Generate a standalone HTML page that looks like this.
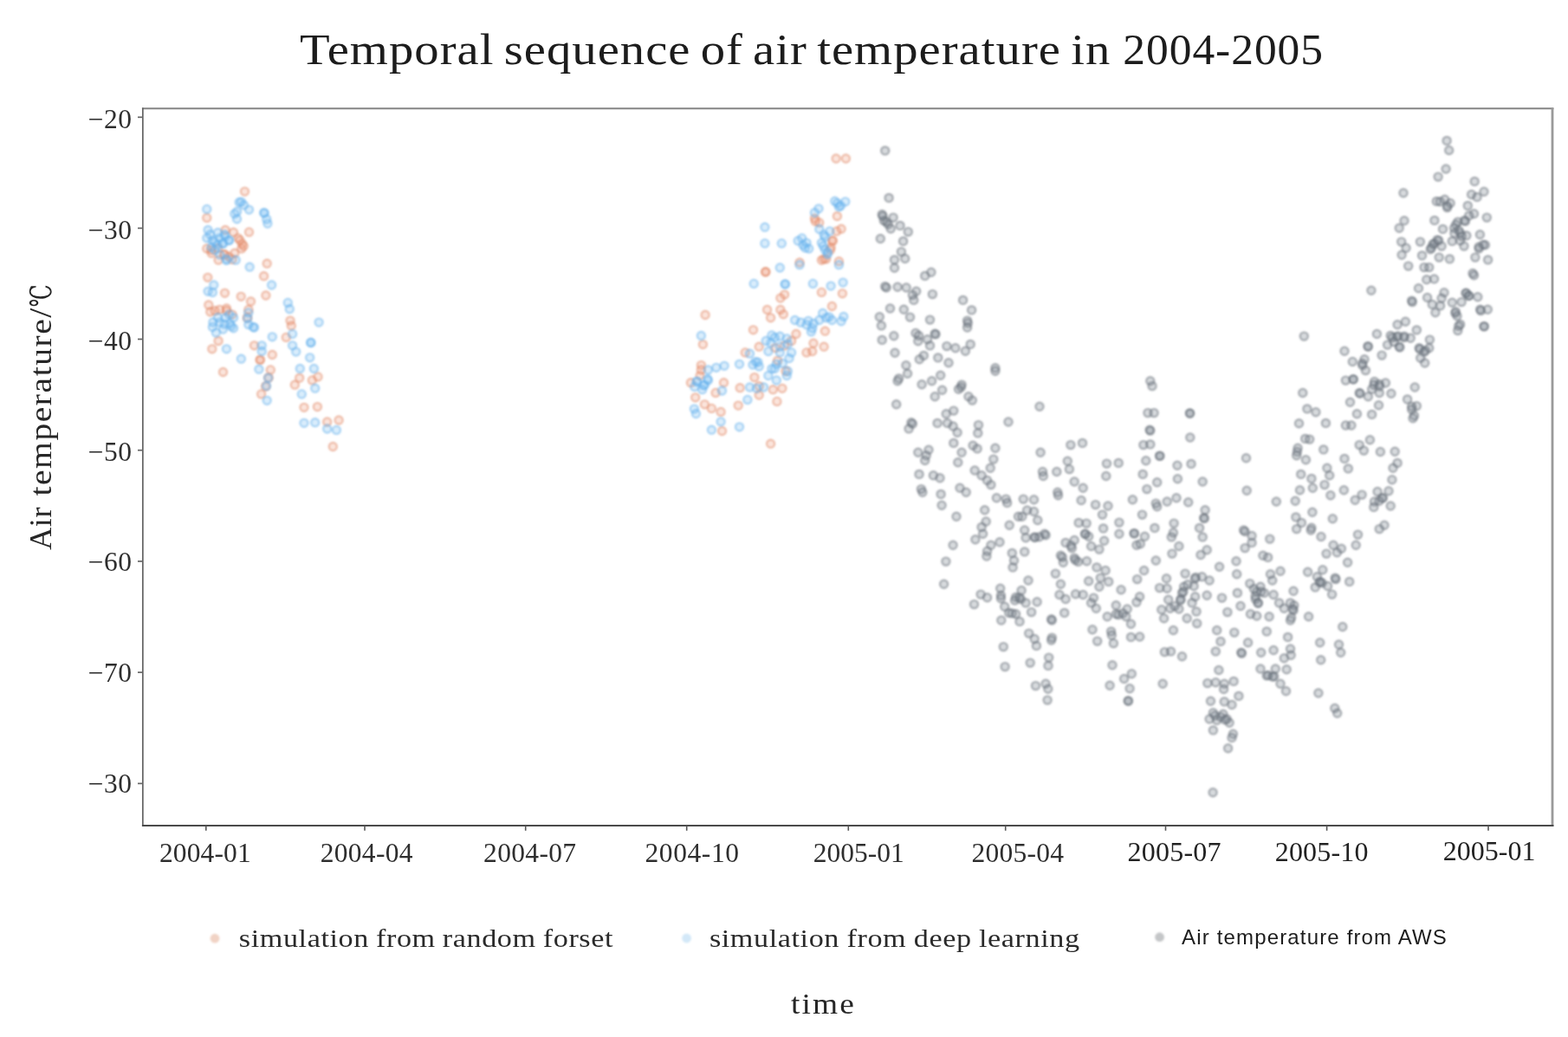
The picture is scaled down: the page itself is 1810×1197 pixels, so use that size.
<!DOCTYPE html>
<html lang="en"><head><meta charset="utf-8"><title>Temporal sequence of air temperature in 2004-2005</title>
<style>
html,body{margin:0;padding:0;background:#fff;}
body{width:1810px;height:1197px;overflow:hidden;position:relative;font-family:"Liberation Serif","Noto Serif CJK SC",serif;}
svg{position:absolute;left:0;top:0;display:block}
text{font-family:"Liberation Serif","Noto Serif CJK SC",serif;fill:#262626}
.title{font-size:51.5px;fill:#1c1c1c}
.yl{font-size:36px}
.deg{font-size:34px;font-family:"Liberation Serif","DejaVu Serif","Noto Serif CJK SC",serif}
.tk{font-size:31.5px;fill:#2e2e2e}
.tkt{font-size:32px;fill:#222}
.lg{font-size:29.6px;fill:#2a2a2a}
.lgs{font-family:"Liberation Sans",sans-serif;font-size:24px;fill:#1c1c1c}
.xl{font-size:34px}
.o circle{fill:#f09a7c;fill-opacity:.27;stroke:#de8663;stroke-opacity:.52;stroke-width:2.1}
.b circle{fill:#72bcf3;fill-opacity:.27;stroke:#64aeea;stroke-opacity:.52;stroke-width:2.1}
.g circle{fill:#7a8590;fill-opacity:.3;stroke:#666e76;stroke-opacity:.52;stroke-width:2.2}
</style></head><body>
<svg width="1810" height="1197" viewBox="0 0 1810 1197">
<rect x="0" y="0" width="1810" height="1197" fill="#fff"/>
<defs><filter id="soft" x="0" y="0" width="1810" height="1197" filterUnits="userSpaceOnUse"><feGaussianBlur stdDeviation="0.8"/></filter></defs>
<g><text class="title" transform="translate(346,73.9) scale(1.1,1)" style="letter-spacing:0.94px;word-spacing:-3.64px">Temporal sequence of air temperature in</text> <text class="title" x="1296.3" y="73.9" style="letter-spacing:0.95px;word-spacing:0px">2004-2005</text></g>
<g class="o" filter="url(#soft)"><circle cx="282.5" cy="221.1" r="4.6"/><circle cx="238.8" cy="251.4" r="4.6"/><circle cx="287.5" cy="267.9" r="4.6"/><circle cx="279.5" cy="281.5" r="4.6"/><circle cx="269.5" cy="268.2" r="4.6"/><circle cx="260.1" cy="265.5" r="4.6"/><circle cx="274.8" cy="274.8" r="4.6"/><circle cx="278.8" cy="286.9" r="4.6"/><circle cx="270.8" cy="292.2" r="4.6"/><circle cx="264.1" cy="296.2" r="4.6"/><circle cx="252.1" cy="300.2" r="4.6"/><circle cx="244.1" cy="292.2" r="4.6"/><circle cx="238.8" cy="286.9" r="4.6"/><circle cx="258.8" cy="293.5" r="4.6"/><circle cx="308.2" cy="304.2" r="4.6"/><circle cx="304.6" cy="318.7" r="4.6"/><circle cx="239.8" cy="320.3" r="4.6"/><circle cx="259.5" cy="338.3" r="4.6"/><circle cx="278.2" cy="342.3" r="4.6"/><circle cx="306.9" cy="341" r="4.6"/><circle cx="289.5" cy="348" r="4.6"/><circle cx="240.8" cy="352" r="4.6"/><circle cx="242.8" cy="360" r="4.6"/><circle cx="253.5" cy="357.4" r="4.6"/><circle cx="261.5" cy="356" r="4.6"/><circle cx="286.9" cy="357.4" r="4.6"/><circle cx="285.5" cy="366.7" r="4.6"/><circle cx="335" cy="370.1" r="4.6"/><circle cx="336.3" cy="376.1" r="4.6"/><circle cx="330.3" cy="389.4" r="4.6"/><circle cx="252.1" cy="393.5" r="4.6"/><circle cx="244.8" cy="402.8" r="4.6"/><circle cx="293.5" cy="398.8" r="4.6"/><circle cx="314.3" cy="409.5" r="4.6"/><circle cx="300.2" cy="415.5" r="4.6"/><circle cx="257.5" cy="429.5" r="4.6"/><circle cx="312.3" cy="426.9" r="4.6"/><circle cx="301.6" cy="454.9" r="4.6"/><circle cx="340.3" cy="444.2" r="4.6"/><circle cx="345.7" cy="436.2" r="4.6"/><circle cx="360.4" cy="438.9" r="4.6"/><circle cx="367" cy="434.9" r="4.6"/><circle cx="351" cy="470.3" r="4.6"/><circle cx="366.4" cy="469.6" r="4.6"/><circle cx="391.1" cy="485" r="4.6"/><circle cx="377.7" cy="487" r="4.6"/><circle cx="384.3" cy="515.5" r="4.6"/><circle cx="965.1" cy="183" r="4.6"/><circle cx="976.4" cy="183" r="4.6"/><circle cx="966.4" cy="249.5" r="4.6"/><circle cx="945.7" cy="256.9" r="4.6"/><circle cx="940.4" cy="252.2" r="4.6"/><circle cx="965.8" cy="266.9" r="4.6"/><circle cx="971.1" cy="264.2" r="4.6"/><circle cx="960.4" cy="277.6" r="4.6"/><circle cx="959.1" cy="285.6" r="4.6"/><circle cx="948.4" cy="300.3" r="4.6"/><circle cx="953.7" cy="299" r="4.6"/><circle cx="923" cy="303" r="4.6"/><circle cx="968.4" cy="301.7" r="4.6"/><circle cx="883.6" cy="314" r="4.6"/><circle cx="905.6" cy="340.1" r="4.6"/><circle cx="900.9" cy="344.1" r="4.6"/><circle cx="948.4" cy="337.4" r="4.6"/><circle cx="972.4" cy="338.8" r="4.6"/><circle cx="960.4" cy="353.5" r="4.6"/><circle cx="885.6" cy="357.5" r="4.6"/><circle cx="900.9" cy="357.5" r="4.6"/><circle cx="889.6" cy="366.8" r="4.6"/><circle cx="904.3" cy="362.8" r="4.6"/><circle cx="814.1" cy="363.5" r="4.6"/><circle cx="869.5" cy="380.8" r="4.6"/><circle cx="952.4" cy="382.2" r="4.6"/><circle cx="919" cy="385.5" r="4.6"/><circle cx="913.6" cy="393.5" r="4.6"/><circle cx="939" cy="396.2" r="4.6"/><circle cx="951.1" cy="400.2" r="4.6"/><circle cx="931" cy="406.9" r="4.6"/><circle cx="937.7" cy="405.6" r="4.6"/><circle cx="876.2" cy="400.2" r="4.6"/><circle cx="894.9" cy="401.6" r="4.6"/><circle cx="905.6" cy="398.9" r="4.6"/><circle cx="860.2" cy="406.9" r="4.6"/><circle cx="811.4" cy="397.6" r="4.6"/><circle cx="809.4" cy="421.6" r="4.6"/><circle cx="897.6" cy="416.3" r="4.6"/><circle cx="907" cy="428.3" r="4.6"/><circle cx="870.9" cy="435.6" r="4.6"/><circle cx="835.5" cy="441.7" r="4.6"/><circle cx="854.2" cy="447.7" r="4.6"/><circle cx="892.3" cy="449.7" r="4.6"/><circle cx="902.9" cy="448.3" r="4.6"/><circle cx="797.4" cy="441.7" r="4.6"/><circle cx="808.1" cy="433.6" r="4.6"/><circle cx="876.2" cy="445.7" r="4.6"/><circle cx="802.7" cy="458.8" r="4.6"/><circle cx="813.4" cy="466.8" r="4.6"/><circle cx="821.4" cy="471.4" r="4.6"/><circle cx="832.1" cy="475.5" r="4.6"/><circle cx="826.1" cy="453.4" r="4.6"/><circle cx="852.2" cy="468.1" r="4.6"/><circle cx="876.2" cy="456.1" r="4.6"/><circle cx="896.9" cy="463.4" r="4.6"/><circle cx="833.5" cy="497.5" r="4.6"/><circle cx="889.6" cy="512.2" r="4.6"/><circle cx="259.2" cy="293.9" r="4.6"/><circle cx="268" cy="299.4" r="4.6"/><circle cx="276.9" cy="277.3" r="4.6"/><circle cx="281.3" cy="284" r="4.6"/><circle cx="251.5" cy="286.2" r="4.6"/><circle cx="243.7" cy="288.4" r="4.6"/><circle cx="248.1" cy="358.7" r="4.6"/><circle cx="261.4" cy="358.7" r="4.6"/><circle cx="268" cy="363.1" r="4.6"/><circle cx="300.3" cy="415.3" r="4.6"/><circle cx="310" cy="436.1" r="4.6"/><circle cx="306.7" cy="446" r="4.6"/><circle cx="941.3" cy="255.5" r="4.6"/><circle cx="961.5" cy="277.9" r="4.6"/><circle cx="958.5" cy="288.4" r="4.6"/><circle cx="951" cy="298.8" r="4.6"/><circle cx="883.9" cy="313.7" r="4.6"/><circle cx="809.3" cy="427" r="4.6"/></g>
<g class="b" filter="url(#soft)"><circle cx="238.8" cy="241.4" r="4.6"/><circle cx="276.2" cy="233.4" r="4.6"/><circle cx="281.5" cy="236.7" r="4.6"/><circle cx="287.5" cy="242.1" r="4.6"/><circle cx="270.8" cy="246.8" r="4.6"/><circle cx="273.5" cy="252.8" r="4.6"/><circle cx="305.2" cy="246.1" r="4.6"/><circle cx="308.9" cy="258.1" r="4.6"/><circle cx="240.1" cy="265.5" r="4.6"/><circle cx="238.8" cy="274.8" r="4.6"/><circle cx="245.4" cy="277.5" r="4.6"/><circle cx="253.5" cy="274.8" r="4.6"/><circle cx="260.1" cy="272.8" r="4.6"/><circle cx="250.8" cy="282.9" r="4.6"/><circle cx="244.1" cy="285.5" r="4.6"/><circle cx="257.5" cy="281.5" r="4.6"/><circle cx="264.1" cy="277.5" r="4.6"/><circle cx="261.5" cy="298.9" r="4.6"/><circle cx="272.2" cy="300.2" r="4.6"/><circle cx="288.2" cy="308.2" r="4.6"/><circle cx="246.8" cy="329" r="4.6"/><circle cx="240.1" cy="336.3" r="4.6"/><circle cx="245.4" cy="337.6" r="4.6"/><circle cx="313.6" cy="329" r="4.6"/><circle cx="332.3" cy="349.4" r="4.6"/><circle cx="334.3" cy="356.7" r="4.6"/><circle cx="260.1" cy="366.7" r="4.6"/><circle cx="253.5" cy="372.1" r="4.6"/><circle cx="265.5" cy="373.4" r="4.6"/><circle cx="269.5" cy="366.7" r="4.6"/><circle cx="245.4" cy="377.4" r="4.6"/><circle cx="257.5" cy="380.1" r="4.6"/><circle cx="269.5" cy="378.8" r="4.6"/><circle cx="249.4" cy="384.1" r="4.6"/><circle cx="293.5" cy="378.1" r="4.6"/><circle cx="286.9" cy="374.7" r="4.6"/><circle cx="314.3" cy="388.8" r="4.6"/><circle cx="337.6" cy="385.4" r="4.6"/><circle cx="368.1" cy="372.1" r="4.6"/><circle cx="359" cy="395.5" r="4.6"/><circle cx="337.6" cy="398.8" r="4.6"/><circle cx="341.7" cy="406.1" r="4.6"/><circle cx="302.2" cy="398.8" r="4.6"/><circle cx="302.2" cy="405.5" r="4.6"/><circle cx="261.5" cy="402.8" r="4.6"/><circle cx="278.4" cy="414.2" r="4.6"/><circle cx="357.7" cy="412.8" r="4.6"/><circle cx="298.9" cy="426.2" r="4.6"/><circle cx="346.3" cy="425.5" r="4.6"/><circle cx="362.4" cy="425.5" r="4.6"/><circle cx="309.6" cy="436.2" r="4.6"/><circle cx="307.6" cy="445.6" r="4.6"/><circle cx="308.2" cy="462.3" r="4.6"/><circle cx="348.3" cy="454.9" r="4.6"/><circle cx="363.7" cy="448.2" r="4.6"/><circle cx="351" cy="488.3" r="4.6"/><circle cx="363.7" cy="487.7" r="4.6"/><circle cx="377.7" cy="495" r="4.6"/><circle cx="388.4" cy="496.4" r="4.6"/><circle cx="963.7" cy="232.2" r="4.6"/><circle cx="975.8" cy="232.8" r="4.6"/><circle cx="968.4" cy="238.8" r="4.6"/><circle cx="945" cy="240.8" r="4.6"/><circle cx="940.4" cy="245.5" r="4.6"/><circle cx="882.9" cy="262.2" r="4.6"/><circle cx="882.9" cy="280.9" r="4.6"/><circle cx="902.3" cy="280.9" r="4.6"/><circle cx="925.7" cy="274.9" r="4.6"/><circle cx="931" cy="280.3" r="4.6"/><circle cx="927" cy="282.9" r="4.6"/><circle cx="933.7" cy="287" r="4.6"/><circle cx="951.1" cy="270.9" r="4.6"/><circle cx="957.7" cy="266.9" r="4.6"/><circle cx="948.4" cy="280.3" r="4.6"/><circle cx="952.4" cy="288.3" r="4.6"/><circle cx="955.1" cy="293.6" r="4.6"/><circle cx="900.3" cy="309" r="4.6"/><circle cx="923" cy="305.7" r="4.6"/><circle cx="968.4" cy="305.7" r="4.6"/><circle cx="870.2" cy="327.4" r="4.6"/><circle cx="906.3" cy="328.1" r="4.6"/><circle cx="938.4" cy="327.4" r="4.6"/><circle cx="959.1" cy="330.1" r="4.6"/><circle cx="973.1" cy="326.1" r="4.6"/><circle cx="949.7" cy="361.5" r="4.6"/><circle cx="917.6" cy="369.5" r="4.6"/><circle cx="924.3" cy="372.2" r="4.6"/><circle cx="931" cy="374.8" r="4.6"/><circle cx="937.7" cy="378.8" r="4.6"/><circle cx="945.7" cy="369.5" r="4.6"/><circle cx="953.7" cy="366.8" r="4.6"/><circle cx="960.4" cy="369.5" r="4.6"/><circle cx="936.4" cy="382.9" r="4.6"/><circle cx="973.8" cy="365.5" r="4.6"/><circle cx="971.1" cy="370.8" r="4.6"/><circle cx="809.4" cy="387.5" r="4.6"/><circle cx="890.9" cy="386.9" r="4.6"/><circle cx="900.3" cy="388.2" r="4.6"/><circle cx="884.2" cy="393.5" r="4.6"/><circle cx="908.3" cy="390.9" r="4.6"/><circle cx="886.9" cy="405.6" r="4.6"/><circle cx="900.3" cy="406.9" r="4.6"/><circle cx="913.6" cy="406.9" r="4.6"/><circle cx="911" cy="413.6" r="4.6"/><circle cx="865.5" cy="408.2" r="4.6"/><circle cx="872.2" cy="417.6" r="4.6"/><circle cx="876.2" cy="422.9" r="4.6"/><circle cx="853.5" cy="420.3" r="4.6"/><circle cx="836.1" cy="422.3" r="4.6"/><circle cx="826.8" cy="424.3" r="4.6"/><circle cx="817.4" cy="427" r="4.6"/><circle cx="890.9" cy="425.6" r="4.6"/><circle cx="896.3" cy="420.3" r="4.6"/><circle cx="886.9" cy="433.6" r="4.6"/><circle cx="908.3" cy="433.6" r="4.6"/><circle cx="896.3" cy="439" r="4.6"/><circle cx="804.1" cy="440.3" r="4.6"/><circle cx="813.4" cy="444.3" r="4.6"/><circle cx="817.4" cy="439" r="4.6"/><circle cx="810.7" cy="449.7" r="4.6"/><circle cx="865.5" cy="447" r="4.6"/><circle cx="873.5" cy="448.3" r="4.6"/><circle cx="881.6" cy="447" r="4.6"/><circle cx="833.5" cy="451" r="4.6"/><circle cx="801.4" cy="472.1" r="4.6"/><circle cx="803.4" cy="477.5" r="4.6"/><circle cx="862.9" cy="461.4" r="4.6"/><circle cx="832.1" cy="486.8" r="4.6"/><circle cx="821.4" cy="496.2" r="4.6"/><circle cx="853.5" cy="492.8" r="4.6"/><circle cx="278.5" cy="233.1" r="4.6"/><circle cx="273.6" cy="244.2" r="4.6"/><circle cx="304.7" cy="245.5" r="4.6"/><circle cx="307.8" cy="253" r="4.6"/><circle cx="253.7" cy="293.9" r="4.6"/><circle cx="261.4" cy="300.6" r="4.6"/><circle cx="248.1" cy="288.4" r="4.6"/><circle cx="242.6" cy="270.7" r="4.6"/><circle cx="251.5" cy="268.5" r="4.6"/><circle cx="259.2" cy="270.7" r="4.6"/><circle cx="248.1" cy="279.6" r="4.6"/><circle cx="257" cy="280.7" r="4.6"/><circle cx="264.7" cy="277.3" r="4.6"/><circle cx="251.5" cy="366.5" r="4.6"/><circle cx="259.2" cy="374.2" r="4.6"/><circle cx="264.7" cy="363.1" r="4.6"/><circle cx="245.9" cy="372" r="4.6"/><circle cx="266.9" cy="376.4" r="4.6"/><circle cx="286.8" cy="360.9" r="4.6"/><circle cx="285.7" cy="367.6" r="4.6"/><circle cx="292.3" cy="377.5" r="4.6"/><circle cx="358.6" cy="395.4" r="4.6"/><circle cx="921.2" cy="277.9" r="4.6"/><circle cx="929.4" cy="286.1" r="4.6"/><circle cx="945.8" cy="264.5" r="4.6"/><circle cx="966.7" cy="234.6" r="4.6"/><circle cx="970.4" cy="237.6" r="4.6"/><circle cx="952.5" cy="273.4" r="4.6"/><circle cx="950.3" cy="283.9" r="4.6"/><circle cx="955.5" cy="291.3" r="4.6"/><circle cx="906.3" cy="327.9" r="4.6"/><circle cx="939.1" cy="373.3" r="4.6"/><circle cx="933.1" cy="370.3" r="4.6"/><circle cx="957" cy="365.8" r="4.6"/><circle cx="889.9" cy="395.7" r="4.6"/><circle cx="900.3" cy="400.1" r="4.6"/><circle cx="894.3" cy="389.7" r="4.6"/><circle cx="909.3" cy="397.2" r="4.6"/><circle cx="869" cy="421" r="4.6"/><circle cx="874.9" cy="418.1" r="4.6"/><circle cx="894.3" cy="425.5" r="4.6"/><circle cx="903.3" cy="419.6" r="4.6"/><circle cx="909.3" cy="428.5" r="4.6"/><circle cx="804.8" cy="440.4" r="4.6"/><circle cx="812.2" cy="444.9" r="4.6"/><circle cx="801.8" cy="446.4" r="4.6"/><circle cx="816.7" cy="437.5" r="4.6"/></g>
<g class="g" filter="url(#soft)"><circle cx="1021.7" cy="173.9" r="4.6"/><circle cx="1026.1" cy="228.4" r="4.6"/><circle cx="1018.2" cy="247.5" r="4.6"/><circle cx="1020.3" cy="254.7" r="4.6"/><circle cx="1031.1" cy="251.1" r="4.6"/><circle cx="1025.3" cy="259" r="4.6"/><circle cx="1028.2" cy="264" r="4.6"/><circle cx="1039" cy="260.4" r="4.6"/><circle cx="1048.3" cy="267.6" r="4.6"/><circle cx="1016.3" cy="275.5" r="4.6"/><circle cx="1042.6" cy="278.4" r="4.6"/><circle cx="1040.4" cy="290.6" r="4.6"/><circle cx="1044.7" cy="298.5" r="4.6"/><circle cx="1032.5" cy="299.9" r="4.6"/><circle cx="1032.5" cy="309.3" r="4.6"/><circle cx="1074.9" cy="314.3" r="4.6"/><circle cx="1067.7" cy="318.4" r="4.6"/><circle cx="1021.7" cy="330.6" r="4.6"/><circle cx="1023.2" cy="332" r="4.6"/><circle cx="1036.1" cy="331.3" r="4.6"/><circle cx="1046.2" cy="332" r="4.6"/><circle cx="1057.7" cy="336.3" r="4.6"/><circle cx="1053.4" cy="340.6" r="4.6"/><circle cx="1054.8" cy="346.4" r="4.6"/><circle cx="1076.4" cy="339.6" r="4.6"/><circle cx="1111.6" cy="346.4" r="4.6"/><circle cx="1121.6" cy="357.9" r="4.6"/><circle cx="1027.5" cy="356" r="4.6"/><circle cx="1043.3" cy="357.2" r="4.6"/><circle cx="1050.5" cy="366.1" r="4.6"/><circle cx="1015.3" cy="365.8" r="4.6"/><circle cx="1017.4" cy="375.9" r="4.6"/><circle cx="1073.5" cy="369.1" r="4.6"/><circle cx="1116.6" cy="370.1" r="4.6"/><circle cx="1117.3" cy="373" r="4.6"/><circle cx="1116.6" cy="378" r="4.6"/><circle cx="1031.8" cy="387.8" r="4.6"/><circle cx="1057" cy="384.5" r="4.6"/><circle cx="1060.5" cy="387.4" r="4.6"/><circle cx="1079.2" cy="385.2" r="4.6"/><circle cx="1080" cy="385.9" r="4.6"/><circle cx="1018.2" cy="392.4" r="4.6"/><circle cx="1059.8" cy="393.8" r="4.6"/><circle cx="1070.6" cy="391.7" r="4.6"/><circle cx="1073.5" cy="398.9" r="4.6"/><circle cx="1092.9" cy="399.6" r="4.6"/><circle cx="1102.9" cy="401.7" r="4.6"/><circle cx="1120.2" cy="397.4" r="4.6"/><circle cx="1114.4" cy="405.3" r="4.6"/><circle cx="1033" cy="407.2" r="4.6"/><circle cx="1066.3" cy="410.4" r="4.6"/><circle cx="1061.3" cy="414.7" r="4.6"/><circle cx="1082.8" cy="412.9" r="4.6"/><circle cx="1095" cy="418.7" r="4.6"/><circle cx="1045.9" cy="421.8" r="4.6"/><circle cx="1047.6" cy="431.2" r="4.6"/><circle cx="1037.6" cy="436.9" r="4.6"/><circle cx="1036.1" cy="439.8" r="4.6"/><circle cx="1085.7" cy="433.3" r="4.6"/><circle cx="1075.6" cy="439.8" r="4.6"/><circle cx="1064.1" cy="443.7" r="4.6"/><circle cx="1148.9" cy="424.7" r="4.6"/><circle cx="1148.9" cy="428.3" r="4.6"/><circle cx="1110.1" cy="444.1" r="4.6"/><circle cx="1109.4" cy="447" r="4.6"/><circle cx="1106.5" cy="449.2" r="4.6"/><circle cx="1087.6" cy="450.3" r="4.6"/><circle cx="1079.2" cy="457.8" r="4.6"/><circle cx="1118" cy="457.8" r="4.6"/><circle cx="1122.3" cy="462.1" r="4.6"/><circle cx="1034.7" cy="466.7" r="4.6"/><circle cx="1200" cy="469.3" r="4.6"/><circle cx="1100.8" cy="474.1" r="4.6"/><circle cx="1092.2" cy="477.7" r="4.6"/><circle cx="1051.9" cy="487.7" r="4.6"/><circle cx="1053.4" cy="489.2" r="4.6"/><circle cx="1049.1" cy="494.9" r="4.6"/><circle cx="1082.1" cy="488.4" r="4.6"/><circle cx="1093.6" cy="488.4" r="4.6"/><circle cx="1100.1" cy="492" r="4.6"/><circle cx="1105.1" cy="499.2" r="4.6"/><circle cx="1129.5" cy="490.6" r="4.6"/><circle cx="1128.8" cy="499.9" r="4.6"/><circle cx="1164" cy="487" r="4.6"/><circle cx="1100.8" cy="511.4" r="4.6"/><circle cx="1123.1" cy="514.3" r="4.6"/><circle cx="1128.1" cy="517.9" r="4.6"/><circle cx="1148.9" cy="517.2" r="4.6"/><circle cx="1059.8" cy="522.2" r="4.6"/><circle cx="1072" cy="519.3" r="4.6"/><circle cx="1069.2" cy="525.8" r="4.6"/><circle cx="1067.7" cy="531.5" r="4.6"/><circle cx="1110.1" cy="522.2" r="4.6"/><circle cx="1105.8" cy="533.7" r="4.6"/><circle cx="1146.8" cy="530.1" r="4.6"/><circle cx="1143.2" cy="540.2" r="4.6"/><circle cx="1201.1" cy="522.2" r="4.6"/><circle cx="1235.9" cy="513.6" r="4.6"/><circle cx="1232.3" cy="532.3" r="4.6"/><circle cx="1234.4" cy="541.6" r="4.6"/><circle cx="1125.2" cy="543" r="4.6"/><circle cx="1133.1" cy="548.8" r="4.6"/><circle cx="1139.6" cy="554.5" r="4.6"/><circle cx="1143.9" cy="559.6" r="4.6"/><circle cx="1203.5" cy="544.5" r="4.6"/><circle cx="1204.3" cy="549.5" r="4.6"/><circle cx="1219.8" cy="544.5" r="4.6"/><circle cx="1061" cy="547.4" r="4.6"/><circle cx="1077.4" cy="548.8" r="4.6"/><circle cx="1085" cy="551.7" r="4.6"/><circle cx="1063.4" cy="564.6" r="4.6"/><circle cx="1064.9" cy="568.2" r="4.6"/><circle cx="1108" cy="563.2" r="4.6"/><circle cx="1115.2" cy="568.2" r="4.6"/><circle cx="1086.1" cy="570.4" r="4.6"/><circle cx="1087.1" cy="583.3" r="4.6"/><circle cx="1150.4" cy="574.7" r="4.6"/><circle cx="1161.2" cy="576.1" r="4.6"/><circle cx="1162.6" cy="580.4" r="4.6"/><circle cx="1181.3" cy="576.1" r="4.6"/><circle cx="1193.5" cy="576.8" r="4.6"/><circle cx="1220.8" cy="568.2" r="4.6"/><circle cx="1221.5" cy="571.8" r="4.6"/><circle cx="1240.2" cy="556" r="4.6"/><circle cx="1136.7" cy="588.7" r="4.6"/><circle cx="1104" cy="596.2" r="4.6"/><circle cx="1185.6" cy="589" r="4.6"/><circle cx="1193.5" cy="590.5" r="4.6"/><circle cx="1175.5" cy="596.2" r="4.6"/><circle cx="1179.8" cy="596.2" r="4.6"/><circle cx="1197.8" cy="600.5" r="4.6"/><circle cx="1138.2" cy="602" r="4.6"/><circle cx="1133.1" cy="608.4" r="4.6"/><circle cx="1165.2" cy="606.3" r="4.6"/><circle cx="1134.6" cy="616.3" r="4.6"/><circle cx="1125.9" cy="622.8" r="4.6"/><circle cx="1182.7" cy="612" r="4.6"/><circle cx="1184.1" cy="620.7" r="4.6"/><circle cx="1194.2" cy="619.9" r="4.6"/><circle cx="1205.7" cy="616.3" r="4.6"/><circle cx="1207.1" cy="617.8" r="4.6"/><circle cx="1154" cy="625.7" r="4.6"/><circle cx="1143.9" cy="629.3" r="4.6"/><circle cx="1100.1" cy="629.3" r="4.6"/><circle cx="1230.1" cy="626.4" r="4.6"/><circle cx="1240.2" cy="623.5" r="4.6"/><circle cx="1139.6" cy="636.2" r="4.6"/><circle cx="1138.9" cy="642" r="4.6"/><circle cx="1168.3" cy="638.4" r="4.6"/><circle cx="1182.7" cy="636.9" r="4.6"/><circle cx="1170.5" cy="647" r="4.6"/><circle cx="1169.1" cy="654.9" r="4.6"/><circle cx="1224.4" cy="641.2" r="4.6"/><circle cx="1227.3" cy="649.2" r="4.6"/><circle cx="1237.3" cy="632.6" r="4.6"/><circle cx="1240.2" cy="644.1" r="4.6"/><circle cx="1244.5" cy="648.4" r="4.6"/><circle cx="1091.9" cy="648.1" r="4.6"/><circle cx="1218.4" cy="662.1" r="4.6"/><circle cx="1187" cy="670" r="4.6"/><circle cx="1089.6" cy="674.3" r="4.6"/><circle cx="1224.4" cy="674.3" r="4.6"/><circle cx="1154.7" cy="679.3" r="4.6"/><circle cx="1155.4" cy="687.2" r="4.6"/><circle cx="1155.4" cy="690.8" r="4.6"/><circle cx="1179.1" cy="681.5" r="4.6"/><circle cx="1172.6" cy="689.4" r="4.6"/><circle cx="1178.4" cy="691.5" r="4.6"/><circle cx="1184.1" cy="695.9" r="4.6"/><circle cx="1132.1" cy="686.1" r="4.6"/><circle cx="1139.6" cy="689.8" r="4.6"/><circle cx="1124.5" cy="697.6" r="4.6"/><circle cx="1197.1" cy="694.7" r="4.6"/><circle cx="1223" cy="686.5" r="4.6"/><circle cx="1230.1" cy="691.5" r="4.6"/><circle cx="1241.6" cy="685.8" r="4.6"/><circle cx="1159.7" cy="700.2" r="4.6"/><circle cx="1164.7" cy="707.4" r="4.6"/><circle cx="1172.6" cy="708.8" r="4.6"/><circle cx="1190.6" cy="706.6" r="4.6"/><circle cx="1228.7" cy="707.4" r="4.6"/><circle cx="1155.8" cy="716" r="4.6"/><circle cx="1177" cy="717.4" r="4.6"/><circle cx="1213.6" cy="714.8" r="4.6"/><circle cx="1214.3" cy="716" r="4.6"/><circle cx="1187.7" cy="731.1" r="4.6"/><circle cx="1194.2" cy="737.5" r="4.6"/><circle cx="1196.4" cy="745.4" r="4.6"/><circle cx="1214.3" cy="736.1" r="4.6"/><circle cx="1213.6" cy="739" r="4.6"/><circle cx="1158.3" cy="746.6" r="4.6"/><circle cx="1210.7" cy="759.1" r="4.6"/><circle cx="1210" cy="768.4" r="4.6"/><circle cx="1189.2" cy="765.1" r="4.6"/><circle cx="1160.1" cy="769.6" r="4.6"/><circle cx="1207.1" cy="789.3" r="4.6"/><circle cx="1195.5" cy="791.6" r="4.6"/><circle cx="1209.8" cy="795.2" r="4.6"/><circle cx="1209.1" cy="808.1" r="4.6"/><circle cx="1327.8" cy="439.8" r="4.6"/><circle cx="1330" cy="445.6" r="4.6"/><circle cx="1325" cy="476.6" r="4.6"/><circle cx="1332.1" cy="476.6" r="4.6"/><circle cx="1373.4" cy="476.9" r="4.6"/><circle cx="1373.7" cy="477.2" r="4.6"/><circle cx="1327.1" cy="496.3" r="4.6"/><circle cx="1327.8" cy="497.1" r="4.6"/><circle cx="1373.8" cy="505" r="4.6"/><circle cx="1249.5" cy="511.4" r="4.6"/><circle cx="1319.9" cy="513.6" r="4.6"/><circle cx="1327.8" cy="512.9" r="4.6"/><circle cx="1338.6" cy="526.1" r="4.6"/><circle cx="1338.9" cy="526.4" r="4.6"/><circle cx="1438.5" cy="528.7" r="4.6"/><circle cx="1277.5" cy="535.1" r="4.6"/><circle cx="1291.2" cy="534.4" r="4.6"/><circle cx="1322.8" cy="531.8" r="4.6"/><circle cx="1359" cy="537.3" r="4.6"/><circle cx="1375" cy="535.4" r="4.6"/><circle cx="1319.2" cy="547.4" r="4.6"/><circle cx="1276.8" cy="549.5" r="4.6"/><circle cx="1335.7" cy="556.7" r="4.6"/><circle cx="1359.4" cy="552.8" r="4.6"/><circle cx="1388.2" cy="556" r="4.6"/><circle cx="1323.9" cy="564.6" r="4.6"/><circle cx="1439.2" cy="566.3" r="4.6"/><circle cx="1250.2" cy="563.2" r="4.6"/><circle cx="1248.1" cy="577.5" r="4.6"/><circle cx="1264.6" cy="582.6" r="4.6"/><circle cx="1279" cy="584" r="4.6"/><circle cx="1307.4" cy="576.8" r="4.6"/><circle cx="1358" cy="574.7" r="4.6"/><circle cx="1347.2" cy="579" r="4.6"/><circle cx="1334.3" cy="581.1" r="4.6"/><circle cx="1335.7" cy="584.7" r="4.6"/><circle cx="1371.7" cy="579.7" r="4.6"/><circle cx="1473.3" cy="579" r="4.6"/><circle cx="1391.1" cy="588.7" r="4.6"/><circle cx="1272.5" cy="594.1" r="4.6"/><circle cx="1318.5" cy="594.1" r="4.6"/><circle cx="1389.6" cy="597.7" r="4.6"/><circle cx="1390.3" cy="598.4" r="4.6"/><circle cx="1254.1" cy="604.1" r="4.6"/><circle cx="1245.2" cy="603.4" r="4.6"/><circle cx="1291.9" cy="603.1" r="4.6"/><circle cx="1355.1" cy="604.1" r="4.6"/><circle cx="1273.6" cy="609.9" r="4.6"/><circle cx="1332.9" cy="609.4" r="4.6"/><circle cx="1384.6" cy="609.4" r="4.6"/><circle cx="1435.6" cy="612" r="4.6"/><circle cx="1437.1" cy="613.5" r="4.6"/><circle cx="1291.9" cy="616.3" r="4.6"/><circle cx="1309.1" cy="615.6" r="4.6"/><circle cx="1309.4" cy="615.9" r="4.6"/><circle cx="1321.4" cy="619.2" r="4.6"/><circle cx="1352.3" cy="619.9" r="4.6"/><circle cx="1354.4" cy="614.9" r="4.6"/><circle cx="1388.2" cy="619.9" r="4.6"/><circle cx="1445" cy="618.5" r="4.6"/><circle cx="1465.8" cy="622.1" r="4.6"/><circle cx="1274.6" cy="624.2" r="4.6"/><circle cx="1252.4" cy="616.3" r="4.6"/><circle cx="1256.7" cy="619.2" r="4.6"/><circle cx="1312" cy="629.3" r="4.6"/><circle cx="1316.3" cy="627.8" r="4.6"/><circle cx="1445" cy="626.4" r="4.6"/><circle cx="1259.6" cy="630.5" r="4.6"/><circle cx="1268.9" cy="634.1" r="4.6"/><circle cx="1360.9" cy="630.5" r="4.6"/><circle cx="1353" cy="639.1" r="4.6"/><circle cx="1393.2" cy="634.8" r="4.6"/><circle cx="1386" cy="640.5" r="4.6"/><circle cx="1437.1" cy="632.6" r="4.6"/><circle cx="1457.9" cy="641.2" r="4.6"/><circle cx="1463.6" cy="643.4" r="4.6"/><circle cx="1254.5" cy="647.7" r="4.6"/><circle cx="1266" cy="654.9" r="4.6"/><circle cx="1276.1" cy="658.5" r="4.6"/><circle cx="1334.3" cy="647" r="4.6"/><circle cx="1320.6" cy="658.5" r="4.6"/><circle cx="1407.6" cy="654.2" r="4.6"/><circle cx="1427" cy="647.7" r="4.6"/><circle cx="1427.7" cy="662.8" r="4.6"/><circle cx="1478" cy="659.2" r="4.6"/><circle cx="1466.5" cy="662.8" r="4.6"/><circle cx="1468.7" cy="670" r="4.6"/><circle cx="1256.7" cy="670.7" r="4.6"/><circle cx="1270.3" cy="667.1" r="4.6"/><circle cx="1279.7" cy="671.4" r="4.6"/><circle cx="1268.9" cy="677.2" r="4.6"/><circle cx="1312.7" cy="668.6" r="4.6"/><circle cx="1346.5" cy="667.8" r="4.6"/><circle cx="1368.1" cy="662.1" r="4.6"/><circle cx="1380.3" cy="666.4" r="4.6"/><circle cx="1387.5" cy="665.7" r="4.6"/><circle cx="1396.1" cy="670" r="4.6"/><circle cx="1338.6" cy="678.6" r="4.6"/><circle cx="1347.2" cy="679.3" r="4.6"/><circle cx="1366.6" cy="677.2" r="4.6"/><circle cx="1364.5" cy="684.4" r="4.6"/><circle cx="1378.1" cy="676.5" r="4.6"/><circle cx="1442.8" cy="673.6" r="4.6"/><circle cx="1455" cy="677.2" r="4.6"/><circle cx="1450.7" cy="682.9" r="4.6"/><circle cx="1459.3" cy="684.4" r="4.6"/><circle cx="1294.1" cy="680.8" r="4.6"/><circle cx="1250.2" cy="686.5" r="4.6"/><circle cx="1262.4" cy="690.1" r="4.6"/><circle cx="1259.6" cy="695.9" r="4.6"/><circle cx="1315.6" cy="688.7" r="4.6"/><circle cx="1312" cy="695.1" r="4.6"/><circle cx="1379.6" cy="688.7" r="4.6"/><circle cx="1393.2" cy="687.2" r="4.6"/><circle cx="1410.5" cy="690.1" r="4.6"/><circle cx="1428.4" cy="684.4" r="4.6"/><circle cx="1348.7" cy="692.3" r="4.6"/><circle cx="1363" cy="691.5" r="4.6"/><circle cx="1376" cy="695.9" r="4.6"/><circle cx="1449.3" cy="691.5" r="4.6"/><circle cx="1452.1" cy="695.9" r="4.6"/><circle cx="1470.1" cy="686.5" r="4.6"/><circle cx="1476.6" cy="695.9" r="4.6"/><circle cx="1489.5" cy="695.9" r="4.6"/><circle cx="1265.3" cy="702.3" r="4.6"/><circle cx="1288.3" cy="698.7" r="4.6"/><circle cx="1301.2" cy="703" r="4.6"/><circle cx="1288.3" cy="708.8" r="4.6"/><circle cx="1278.2" cy="711.7" r="4.6"/><circle cx="1299.8" cy="711.7" r="4.6"/><circle cx="1340.8" cy="703.8" r="4.6"/><circle cx="1350.8" cy="702.3" r="4.6"/><circle cx="1360.9" cy="703" r="4.6"/><circle cx="1381" cy="705.9" r="4.6"/><circle cx="1416.9" cy="706.6" r="4.6"/><circle cx="1432" cy="699.5" r="4.6"/><circle cx="1443.5" cy="708.8" r="4.6"/><circle cx="1450.7" cy="711" r="4.6"/><circle cx="1465.1" cy="711.7" r="4.6"/><circle cx="1482.3" cy="702.3" r="4.6"/><circle cx="1489.5" cy="716" r="4.6"/><circle cx="1305.5" cy="720.3" r="4.6"/><circle cx="1343.6" cy="713.8" r="4.6"/><circle cx="1370.2" cy="713.8" r="4.6"/><circle cx="1381.7" cy="719.6" r="4.6"/><circle cx="1261" cy="726.8" r="4.6"/><circle cx="1282.6" cy="728.9" r="4.6"/><circle cx="1283.3" cy="733.2" r="4.6"/><circle cx="1354.4" cy="727.5" r="4.6"/><circle cx="1404.7" cy="727.5" r="4.6"/><circle cx="1424.8" cy="730.1" r="4.6"/><circle cx="1462.2" cy="728.9" r="4.6"/><circle cx="1486.6" cy="735.4" r="4.6"/><circle cx="1305.5" cy="735.4" r="4.6"/><circle cx="1315.6" cy="735" r="4.6"/><circle cx="1266.7" cy="740.1" r="4.6"/><circle cx="1285.4" cy="742.6" r="4.6"/><circle cx="1409" cy="740.4" r="4.6"/><circle cx="1440.6" cy="741.8" r="4.6"/><circle cx="1403.3" cy="751.9" r="4.6"/><circle cx="1432.7" cy="753.3" r="4.6"/><circle cx="1433.5" cy="754.1" r="4.6"/><circle cx="1455.7" cy="753.3" r="4.6"/><circle cx="1470.1" cy="750.5" r="4.6"/><circle cx="1489.5" cy="749" r="4.6"/><circle cx="1482.3" cy="759.8" r="4.6"/><circle cx="1344.4" cy="752.6" r="4.6"/><circle cx="1351.5" cy="751.9" r="4.6"/><circle cx="1364.5" cy="757.7" r="4.6"/><circle cx="1284" cy="767.7" r="4.6"/><circle cx="1406.9" cy="773.5" r="4.6"/><circle cx="1455" cy="772" r="4.6"/><circle cx="1472.3" cy="772" r="4.6"/><circle cx="1485.2" cy="772.7" r="4.6"/><circle cx="1462.2" cy="779.9" r="4.6"/><circle cx="1470.8" cy="780.7" r="4.6"/><circle cx="1306.3" cy="777.8" r="4.6"/><circle cx="1297.6" cy="783.5" r="4.6"/><circle cx="1342.2" cy="789.3" r="4.6"/><circle cx="1393.9" cy="788.6" r="4.6"/><circle cx="1403.3" cy="787.8" r="4.6"/><circle cx="1413.3" cy="789.3" r="4.6"/><circle cx="1424.1" cy="786.4" r="4.6"/><circle cx="1478" cy="789.3" r="4.6"/><circle cx="1281.1" cy="791.2" r="4.6"/><circle cx="1304.1" cy="794.8" r="4.6"/><circle cx="1302.2" cy="808.9" r="4.6"/><circle cx="1302.5" cy="809.2" r="4.6"/><circle cx="1412.6" cy="795.5" r="4.6"/><circle cx="1429.9" cy="803.4" r="4.6"/><circle cx="1397.5" cy="809.2" r="4.6"/><circle cx="1413.3" cy="809.9" r="4.6"/><circle cx="1422" cy="813.5" r="4.6"/><circle cx="1400.4" cy="822.8" r="4.6"/><circle cx="1411.9" cy="824.2" r="4.6"/><circle cx="1396.1" cy="830" r="4.6"/><circle cx="1404.7" cy="831.4" r="4.6"/><circle cx="1416.2" cy="830" r="4.6"/><circle cx="1419.1" cy="834.3" r="4.6"/><circle cx="1400.4" cy="842.9" r="4.6"/><circle cx="1423.4" cy="847.2" r="4.6"/><circle cx="1422" cy="851.5" r="4.6"/><circle cx="1417.6" cy="863.8" r="4.6"/><circle cx="1400.1" cy="914.8" r="4.6"/><circle cx="1484.5" cy="797.7" r="4.6"/><circle cx="1670.1" cy="162.4" r="4.6"/><circle cx="1672.7" cy="173.5" r="4.6"/><circle cx="1669.1" cy="195" r="4.6"/><circle cx="1660.1" cy="204.1" r="4.6"/><circle cx="1702.2" cy="209.4" r="4.6"/><circle cx="1620" cy="222.8" r="4.6"/><circle cx="1713" cy="221.3" r="4.6"/><circle cx="1698.6" cy="224.5" r="4.6"/><circle cx="1705" cy="227.4" r="4.6"/><circle cx="1658.3" cy="232.4" r="4.6"/><circle cx="1667.7" cy="230.2" r="4.6"/><circle cx="1674.1" cy="234.5" r="4.6"/><circle cx="1670.6" cy="239.6" r="4.6"/><circle cx="1694.3" cy="237.4" r="4.6"/><circle cx="1701.5" cy="246.8" r="4.6"/><circle cx="1695.7" cy="248.9" r="4.6"/><circle cx="1716.3" cy="251.1" r="4.6"/><circle cx="1621" cy="254.7" r="4.6"/><circle cx="1615.2" cy="263.3" r="4.6"/><circle cx="1655.9" cy="254.4" r="4.6"/><circle cx="1682.8" cy="256.1" r="4.6"/><circle cx="1691.4" cy="255.4" r="4.6"/><circle cx="1665.5" cy="264.4" r="4.6"/><circle cx="1678.5" cy="263.3" r="4.6"/><circle cx="1685.6" cy="269" r="4.6"/><circle cx="1692.8" cy="271.9" r="4.6"/><circle cx="1708.4" cy="270.8" r="4.6"/><circle cx="1676.3" cy="278.4" r="4.6"/><circle cx="1685.6" cy="277.7" r="4.6"/><circle cx="1690" cy="284.1" r="4.6"/><circle cx="1617.7" cy="279.1" r="4.6"/><circle cx="1623.1" cy="286.3" r="4.6"/><circle cx="1618.1" cy="294.2" r="4.6"/><circle cx="1639.4" cy="279.1" r="4.6"/><circle cx="1659.1" cy="276.9" r="4.6"/><circle cx="1654" cy="282" r="4.6"/><circle cx="1651.2" cy="287.7" r="4.6"/><circle cx="1664.1" cy="284.1" r="4.6"/><circle cx="1714.4" cy="282.7" r="4.6"/><circle cx="1707.2" cy="287" r="4.6"/><circle cx="1641.5" cy="294.9" r="4.6"/><circle cx="1661.2" cy="297.1" r="4.6"/><circle cx="1673.4" cy="298.9" r="4.6"/><circle cx="1702.9" cy="297.1" r="4.6"/><circle cx="1717.6" cy="299.9" r="4.6"/><circle cx="1625.7" cy="307.1" r="4.6"/><circle cx="1644" cy="308.6" r="4.6"/><circle cx="1649.7" cy="308.6" r="4.6"/><circle cx="1700" cy="315.5" r="4.6"/><circle cx="1701.5" cy="317.7" r="4.6"/><circle cx="1646.8" cy="322.7" r="4.6"/><circle cx="1655.5" cy="322" r="4.6"/><circle cx="1637.5" cy="332.7" r="4.6"/><circle cx="1582.9" cy="335.3" r="4.6"/><circle cx="1667" cy="337.8" r="4.6"/><circle cx="1664.1" cy="344.2" r="4.6"/><circle cx="1647.6" cy="343.5" r="4.6"/><circle cx="1653.3" cy="351.4" r="4.6"/><circle cx="1662.6" cy="352.9" r="4.6"/><circle cx="1656.9" cy="360.8" r="4.6"/><circle cx="1629.6" cy="347.1" r="4.6"/><circle cx="1630.3" cy="348.6" r="4.6"/><circle cx="1676.3" cy="349.3" r="4.6"/><circle cx="1692.8" cy="338.5" r="4.6"/><circle cx="1695.7" cy="341.4" r="4.6"/><circle cx="1705.8" cy="342.8" r="4.6"/><circle cx="1687.1" cy="348.6" r="4.6"/><circle cx="1679.9" cy="361.5" r="4.6"/><circle cx="1708.6" cy="357.2" r="4.6"/><circle cx="1717.3" cy="357.2" r="4.6"/><circle cx="1709.4" cy="358.6" r="4.6"/><circle cx="1685.6" cy="374.4" r="4.6"/><circle cx="1682.8" cy="381.6" r="4.6"/><circle cx="1713" cy="376.6" r="4.6"/><circle cx="1713.2" cy="376.9" r="4.6"/><circle cx="1622.4" cy="371.3" r="4.6"/><circle cx="1613.1" cy="374.7" r="4.6"/><circle cx="1635.3" cy="380.9" r="4.6"/><circle cx="1589.4" cy="385.5" r="4.6"/><circle cx="1605.2" cy="387.4" r="4.6"/><circle cx="1612.3" cy="388.8" r="4.6"/><circle cx="1621" cy="388.1" r="4.6"/><circle cx="1628.2" cy="390.2" r="4.6"/><circle cx="1601.6" cy="398.1" r="4.6"/><circle cx="1615.2" cy="400.3" r="4.6"/><circle cx="1615.9" cy="401" r="4.6"/><circle cx="1650.4" cy="392.1" r="4.6"/><circle cx="1638.2" cy="401.7" r="4.6"/><circle cx="1645.4" cy="404.6" r="4.6"/><circle cx="1649.7" cy="401.7" r="4.6"/><circle cx="1639.7" cy="413.2" r="4.6"/><circle cx="1644.7" cy="419" r="4.6"/><circle cx="1579" cy="399.6" r="4.6"/><circle cx="1579.3" cy="400.3" r="4.6"/><circle cx="1552" cy="405.3" r="4.6"/><circle cx="1595.1" cy="410.1" r="4.6"/><circle cx="1575" cy="414.7" r="4.6"/><circle cx="1561.3" cy="417.5" r="4.6"/><circle cx="1572.8" cy="421.8" r="4.6"/><circle cx="1576.4" cy="427.6" r="4.6"/><circle cx="1505.3" cy="388.1" r="4.6"/><circle cx="1553.4" cy="439.1" r="4.6"/><circle cx="1562" cy="437.7" r="4.6"/><circle cx="1562.3" cy="437.9" r="4.6"/><circle cx="1586.5" cy="440.5" r="4.6"/><circle cx="1592.2" cy="443.4" r="4.6"/><circle cx="1599.4" cy="442" r="4.6"/><circle cx="1583.6" cy="449.2" r="4.6"/><circle cx="1592.2" cy="453.5" r="4.6"/><circle cx="1569.2" cy="453.5" r="4.6"/><circle cx="1570" cy="454.2" r="4.6"/><circle cx="1579.3" cy="457.8" r="4.6"/><circle cx="1605.9" cy="454.2" r="4.6"/><circle cx="1633.2" cy="447" r="4.6"/><circle cx="1503.8" cy="453.5" r="4.6"/><circle cx="1624.6" cy="460.9" r="4.6"/><circle cx="1558.5" cy="464.2" r="4.6"/><circle cx="1591.5" cy="467.8" r="4.6"/><circle cx="1635.3" cy="468.6" r="4.6"/><circle cx="1629.6" cy="469.3" r="4.6"/><circle cx="1508.9" cy="471.9" r="4.6"/><circle cx="1518.9" cy="475.8" r="4.6"/><circle cx="1566.4" cy="477.7" r="4.6"/><circle cx="1583.6" cy="478.4" r="4.6"/><circle cx="1629.6" cy="472.6" r="4.6"/><circle cx="1631" cy="482.7" r="4.6"/><circle cx="1632.5" cy="479.8" r="4.6"/><circle cx="1499.5" cy="488.7" r="4.6"/><circle cx="1530.4" cy="488.4" r="4.6"/><circle cx="1553.4" cy="491" r="4.6"/><circle cx="1559.9" cy="491" r="4.6"/><circle cx="1506.7" cy="506.4" r="4.6"/><circle cx="1511.7" cy="507.1" r="4.6"/><circle cx="1581.4" cy="507.8" r="4.6"/><circle cx="1569.2" cy="513.6" r="4.6"/><circle cx="1574.3" cy="520.1" r="4.6"/><circle cx="1498.1" cy="517.2" r="4.6"/><circle cx="1497.4" cy="521.5" r="4.6"/><circle cx="1496.7" cy="525.8" r="4.6"/><circle cx="1507.4" cy="530.8" r="4.6"/><circle cx="1527.8" cy="518.9" r="4.6"/><circle cx="1593.4" cy="521.5" r="4.6"/><circle cx="1610.2" cy="521.2" r="4.6"/><circle cx="1552" cy="529.4" r="4.6"/><circle cx="1556.3" cy="540.9" r="4.6"/><circle cx="1613.1" cy="534.4" r="4.6"/><circle cx="1608" cy="540.2" r="4.6"/><circle cx="1606.9" cy="553.8" r="4.6"/><circle cx="1531.9" cy="540.2" r="4.6"/><circle cx="1534.7" cy="548.8" r="4.6"/><circle cx="1501.7" cy="547.4" r="4.6"/><circle cx="1513.9" cy="552.4" r="4.6"/><circle cx="1515.3" cy="563.2" r="4.6"/><circle cx="1529" cy="559.6" r="4.6"/><circle cx="1500.5" cy="565.8" r="4.6"/><circle cx="1551.3" cy="565.8" r="4.6"/><circle cx="1535.9" cy="571.8" r="4.6"/><circle cx="1572.1" cy="571.1" r="4.6"/><circle cx="1564.2" cy="577.3" r="4.6"/><circle cx="1590.1" cy="567.5" r="4.6"/><circle cx="1603" cy="566.8" r="4.6"/><circle cx="1596.5" cy="574.7" r="4.6"/><circle cx="1586.5" cy="579" r="4.6"/><circle cx="1585.8" cy="585.4" r="4.6"/><circle cx="1605.2" cy="584" r="4.6"/><circle cx="1495.2" cy="578.3" r="4.6"/><circle cx="1514.9" cy="591.2" r="4.6"/><circle cx="1495.9" cy="596.9" r="4.6"/><circle cx="1502.4" cy="603.4" r="4.6"/><circle cx="1496.7" cy="610.6" r="4.6"/><circle cx="1538.3" cy="598.8" r="4.6"/><circle cx="1513.9" cy="609.2" r="4.6"/><circle cx="1513.2" cy="612" r="4.6"/><circle cx="1525" cy="619.5" r="4.6"/><circle cx="1598" cy="606.3" r="4.6"/><circle cx="1592.2" cy="610.6" r="4.6"/><circle cx="1567.5" cy="617.1" r="4.6"/><circle cx="1565.2" cy="629.3" r="4.6"/><circle cx="1539.1" cy="629.3" r="4.6"/><circle cx="1548.4" cy="633.3" r="4.6"/><circle cx="1543.4" cy="637.7" r="4.6"/><circle cx="1531.1" cy="639.1" r="4.6"/><circle cx="1555.6" cy="649.2" r="4.6"/><circle cx="1509.6" cy="660.2" r="4.6"/><circle cx="1526.8" cy="657.8" r="4.6"/><circle cx="1520.4" cy="665.7" r="4.6"/><circle cx="1523.2" cy="672.1" r="4.6"/><circle cx="1526.1" cy="672.9" r="4.6"/><circle cx="1541.2" cy="667.1" r="4.6"/><circle cx="1541.9" cy="668.6" r="4.6"/><circle cx="1557.7" cy="671.4" r="4.6"/><circle cx="1518.2" cy="677.9" r="4.6"/><circle cx="1532.6" cy="676.5" r="4.6"/><circle cx="1537.6" cy="686.1" r="4.6"/><circle cx="1493.1" cy="682.2" r="4.6"/><circle cx="1493.8" cy="698.7" r="4.6"/><circle cx="1493.1" cy="704.5" r="4.6"/><circle cx="1510.6" cy="711.7" r="4.6"/><circle cx="1549.8" cy="723.5" r="4.6"/><circle cx="1523.7" cy="741.8" r="4.6"/><circle cx="1545.5" cy="744" r="4.6"/><circle cx="1547.7" cy="753.3" r="4.6"/><circle cx="1524.7" cy="761.7" r="4.6"/><circle cx="1490.2" cy="756.2" r="4.6"/><circle cx="1521.9" cy="800" r="4.6"/><circle cx="1540.8" cy="817.5" r="4.6"/><circle cx="1543.7" cy="823.2" r="4.6"/><circle cx="1366" cy="683" r="4.6"/><circle cx="1362.6" cy="693" r="4.6"/><circle cx="1370.9" cy="674.7" r="4.6"/><circle cx="1379.3" cy="668" r="4.6"/><circle cx="1356" cy="699.6" r="4.6"/><circle cx="1449.1" cy="688" r="4.6"/><circle cx="1452.4" cy="696.3" r="4.6"/><circle cx="1447.4" cy="679.7" r="4.6"/><circle cx="1455.7" cy="683" r="4.6"/><circle cx="1171.5" cy="693" r="4.6"/><circle cx="1168.2" cy="707.9" r="4.6"/><circle cx="1176.5" cy="689.7" r="4.6"/><circle cx="1291.2" cy="709.6" r="4.6"/><circle cx="1296.1" cy="707.9" r="4.6"/><circle cx="1236.3" cy="629.8" r="4.6"/><circle cx="1226.3" cy="643.1" r="4.6"/><circle cx="1241.3" cy="646.4" r="4.6"/><circle cx="1409.2" cy="827.6" r="4.6"/><circle cx="1414.2" cy="830.9" r="4.6"/><circle cx="1402.5" cy="826" r="4.6"/><circle cx="1464" cy="779.4" r="4.6"/><circle cx="1469" cy="781.1" r="4.6"/><circle cx="1492.3" cy="703" r="4.6"/><circle cx="1490.6" cy="712.9" r="4.6"/><circle cx="1523.9" cy="671.4" r="4.6"/><circle cx="1595.3" cy="575" r="4.6"/><circle cx="1592" cy="578.3" r="4.6"/><circle cx="1199.7" cy="619.8" r="4.6"/><circle cx="1194.7" cy="620.5" r="4.6"/><circle cx="1252.9" cy="616.5" r="4.6"/><circle cx="1680.6" cy="259.3" r="4.6"/><circle cx="1683.9" cy="266" r="4.6"/><circle cx="1687.2" cy="272.6" r="4.6"/><circle cx="1678.9" cy="269.3" r="4.6"/><circle cx="1690.5" cy="254.4" r="4.6"/><circle cx="1655.7" cy="280.9" r="4.6"/><circle cx="1652.4" cy="285.9" r="4.6"/><circle cx="1660.7" cy="277.6" r="4.6"/><circle cx="1662.3" cy="232.8" r="4.6"/><circle cx="1670.6" cy="237.8" r="4.6"/><circle cx="1707.1" cy="285" r="4.6"/><circle cx="1712.1" cy="282.5" r="4.6"/><circle cx="1607.4" cy="389.6" r="4.6"/><circle cx="1614" cy="388" r="4.6"/><circle cx="1620.7" cy="389.6" r="4.6"/><circle cx="1609.1" cy="394.6" r="4.6"/><circle cx="1691.9" cy="338.2" r="4.6"/><circle cx="1695.3" cy="341.5" r="4.6"/><circle cx="1680.3" cy="359.8" r="4.6"/><circle cx="1682" cy="364.8" r="4.6"/><circle cx="1683.7" cy="376.4" r="4.6"/><circle cx="1585.9" cy="444.3" r="4.6"/><circle cx="1592.5" cy="446" r="4.6"/><circle cx="1638.9" cy="402.9" r="4.6"/><circle cx="1643.9" cy="406.2" r="4.6"/><circle cx="1572.6" cy="419.5" r="4.6"/><circle cx="1019" cy="249.5" r="4.6"/><circle cx="1023.2" cy="256.1" r="4.6"/></g>
<g fill="none"><path d="M163.9 125.3H1793.4" stroke="#858585" stroke-width="1.9"/><path d="M1792 124.4V954.1" stroke="#9a9a9a" stroke-width="2.8"/><path d="M164.85 124.4V954.1" stroke="#646464" stroke-width="1.7"/><path d="M163.9 953.05H1793.4" stroke="#4a4a4a" stroke-width="2.1"/></g>
<line x1="159" x2="164.5" y1="135.3" y2="135.3" stroke="#666" stroke-width="1.7"/><text class="tk" x="101.8" y="148.4" textLength="50.1" lengthAdjust="spacing">−20</text>
<line x1="159" x2="164.5" y1="263.4" y2="263.4" stroke="#666" stroke-width="1.7"/><text class="tk" x="101.8" y="276.1" textLength="50.1" lengthAdjust="spacing">−30</text>
<line x1="159" x2="164.5" y1="391.5" y2="391.5" stroke="#666" stroke-width="1.7"/><text class="tk" x="101.8" y="403.8" textLength="50.1" lengthAdjust="spacing">−40</text>
<line x1="159" x2="164.5" y1="519.7" y2="519.7" stroke="#666" stroke-width="1.7"/><text class="tk" x="101.8" y="531.5" textLength="50.1" lengthAdjust="spacing">−50</text>
<line x1="159" x2="164.5" y1="647.9" y2="647.9" stroke="#666" stroke-width="1.7"/><text class="tk" x="101.8" y="659.2" textLength="50.1" lengthAdjust="spacing">−60</text>
<line x1="159" x2="164.5" y1="776.1" y2="776.1" stroke="#666" stroke-width="1.7"/><text class="tk" x="101.8" y="786.9" textLength="50.1" lengthAdjust="spacing">−70</text>
<line x1="159" x2="164.5" y1="904.4" y2="904.4" stroke="#666" stroke-width="1.7"/><text class="tk" x="101.8" y="914.5" textLength="50.1" lengthAdjust="spacing">−30</text>
<line x1="237.8" x2="237.8" y1="953" y2="958.8" stroke="#555" stroke-width="1.6"/><text class="tk" x="184" y="994.6" textLength="105.7" lengthAdjust="spacing">2004-01</text>
<line x1="421" x2="421" y1="953" y2="958.8" stroke="#555" stroke-width="1.6"/><text class="tk" x="369.7" y="994.6" textLength="106.8" lengthAdjust="spacing">2004-04</text>
<line x1="606.7" x2="606.7" y1="953" y2="958.8" stroke="#555" stroke-width="1.6"/><text class="tk" x="558.1" y="994.6" textLength="107" lengthAdjust="spacing">2004-07</text>
<line x1="792.7" x2="792.7" y1="953" y2="958.8" stroke="#555" stroke-width="1.6"/><text class="tk" x="744.4" y="994.6" textLength="108.7" lengthAdjust="spacing">2004-10</text>
<line x1="979.3" x2="979.3" y1="953" y2="958.8" stroke="#555" stroke-width="1.6"/><text class="tk" x="938.7" y="994.6" textLength="105" lengthAdjust="spacing">2005-01</text>
<line x1="1160.7" x2="1160.7" y1="953" y2="958.8" stroke="#555" stroke-width="1.6"/><text class="tk" x="1121.5" y="994.6" textLength="106.6" lengthAdjust="spacing">2005-04</text>
<line x1="1345.5" x2="1345.5" y1="953" y2="958.8" stroke="#555" stroke-width="1.6"/><text class="tkt" x="1301.6" y="994.2" textLength="107.9" lengthAdjust="spacing">2005-07</text>
<line x1="1531.6" x2="1531.6" y1="953" y2="958.8" stroke="#555" stroke-width="1.6"/><text class="tkt" x="1471.7" y="994.2" textLength="107.8" lengthAdjust="spacing">2005-10</text>
<line x1="1718" x2="1718" y1="953" y2="958.8" stroke="#555" stroke-width="1.6"/><text class="tkt" x="1665.7" y="993" textLength="106.8" lengthAdjust="spacing">2005-01</text>
<g transform="translate(58.9,634.8) rotate(-90)"><text class="yl" x="0" y="0" style="letter-spacing:0.6px">Air</text> <text class="yl" transform="translate(62.2,0) scale(1.1,1)" style="letter-spacing:1.4px">temperature/</text><text class="deg" transform="translate(280.5,0) scale(0.68,1)" x="0" y="0">℃</text></g>
<circle cx="248" cy="1083.2" r="5.4" fill="#f1d3c5" filter="url(#soft)"/><text class="lg" transform="translate(275.8,1092.5) scale(1.155,1)" style="letter-spacing:0.5px;word-spacing:-0.9px">simulation from random forset</text>
<circle cx="792.6" cy="1083" r="5.4" fill="#d3e8f8" filter="url(#soft)"/><text class="lg" transform="translate(818.9,1092.5) scale(1.155,1)" style="letter-spacing:0.5px;word-spacing:-0.55px">simulation from deep learning</text>
<circle cx="1338.6" cy="1081.7" r="5.4" fill="#c4c6c8" filter="url(#soft)"/><text class="lgs" x="1364" y="1090.2" style="letter-spacing:1.16px;word-spacing:0px">Air temperature from AWS</text>
<text class="xl" transform="translate(913,1169.6) scale(1.1,1)" style="letter-spacing:1.94px;word-spacing:0px">time</text>
</svg>
</body></html>
